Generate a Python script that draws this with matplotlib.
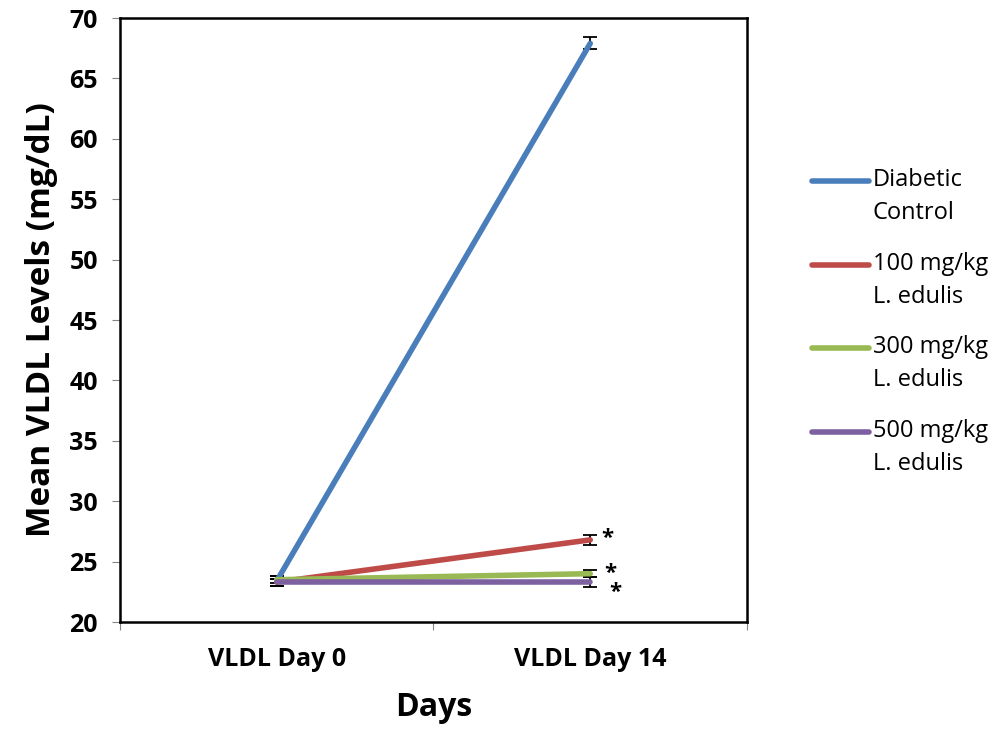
import numpy as np
import matplotlib.pyplot as plt
from matplotlib.lines import Line2D

plt.rcParams['font.family'] = ['Open Sans', 'DejaVu Sans']

days = ["VLDL Day 0", "VLDL Day 14"]
groups = ["Diabetic\nControl", "100 mg/kg\nL. edulis", "300 mg/kg\nL. edulis", "500 mg/kg\nL. edulis"]
colors = ["#4a7ebb", "#be4b48", "#98b954", "#7d60a0"]

diabetic = [23.4, 67.9]
dose100 = [23.3, 26.8]
dose300 = [23.5, 24.0]
dose500 = [23.3, 23.3]
err_diabetic = [0.4, 0.5]
err100 = [0.3, 0.4]
err300 = [0.3, 0.3]
err500 = [0.3, 0.4]

series = [diabetic, dose100, dose300, dose500]
errs = [err_diabetic, err100, err300, err500]

W, H = 995, 733
fig = plt.figure(figsize=(W / 100, H / 100), dpi=100)
ax = fig.add_axes([120 / W, 1 - 622 / H, 627 / W, 604 / H])

x = np.array([0.5, 1.5])
for vals, e, col in zip(series, errs, colors):
    ax.errorbar(x, vals, yerr=e, color=col, lw=4, ecolor="black", elinewidth=1.3,
                capsize=5, capthick=1.3, solid_capstyle="round")

# significance stars at day 14
for vals, dx, dy in zip(series[1:], [0.055, 0.065, 0.08], [0.15, 0.05, -0.85]):
    ax.text(x[1] + dx, vals[1] + dy, "*", fontsize=16, fontweight="bold", ha="center", va="center")

ax.set_xlim(0, 2)
ax.set_ylim(20, 70)
ax.set_yticks(np.arange(20, 71, 5))
ax.set_xticks([0, 1, 2])
ax.set_xticks(x, minor=True)
ax.set_xticklabels([])
ax.set_xticklabels(days, minor=True, fontsize=18, fontweight="bold")
ax.tick_params(axis="x", which="minor", length=0, pad=18)
ax.tick_params(axis="x", which="major", length=6, color="#868686", direction="out")
ax.tick_params(axis="y", length=6, color="#868686", labelsize=18, pad=10)
for t in ax.get_yticklabels():
    t.set_fontweight("bold")
for s in ax.spines.values():
    s.set_linewidth(1.8)
    s.set_color("black")

ax.set_ylabel("Mean VLDL Levels (mg/dL)", fontsize=24, fontweight="bold", labelpad=8)
ax.set_xlabel("Days", fontsize=23, fontweight="bold", labelpad=14)

# legend drawn by hand so the line sits beside the first text row
for i, (lab, col) in enumerate(zip(groups, colors)):
    yc = 181 + i * 83.7
    fig.add_artist(Line2D([812 / W, 869 / W], [1 - yc / H] * 2, color=col, lw=4,
                          solid_capstyle="round", transform=fig.transFigure))
    fig.text(873 / W, 1 - (yc - 13) / H, lab, fontsize=17, va="top", ha="left",
             linespacing=1.5)

fig.savefig("out.png", dpi=100)
